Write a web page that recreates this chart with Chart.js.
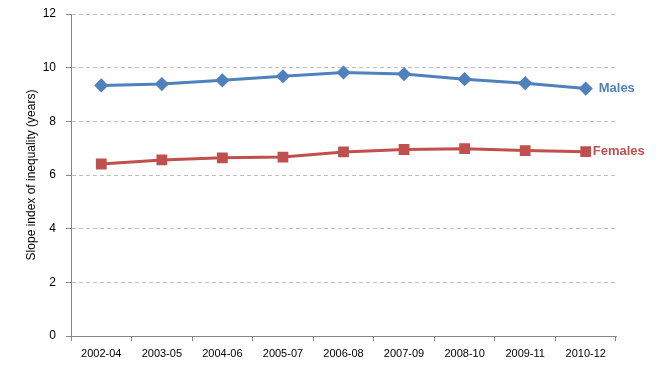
<!DOCTYPE html>
<html>
<head>
<meta charset="utf-8">
<script src="https://cdn.jsdelivr.net/npm/chart.js@4"></script>
<style>
  html, body { margin: 0; padding: 0; background: #ffffff; }
  #wrap { width: 664px; height: 370px; position: relative; }
</style>
</head>
<body>
<div id="wrap"><canvas id="chart"></canvas></div>
<script>
// Data
const periods = ['2002-04', '2003-05', '2004-06', '2005-07', '2006-08', '2007-09', '2008-10', '2009-11', '2010-12'];
const males = [9.34, 9.39, 9.53, 9.68, 9.82, 9.76, 9.57, 9.42, 9.22];
const females = [6.41, 6.56, 6.64, 6.67, 6.86, 6.95, 6.98, 6.91, 6.87];
const yTicks = [0, 2, 4, 6, 8, 10, 12];

const BLUE = '#4F81BD';
const RED = '#C0504D';
const AXIS = '#868686';
const FONT = "'Liberation Sans', Arial, sans-serif";

// Series name written next to the last point
const endLabels = {
    id: 'endLabels',
    afterDatasetsDraw(chart) {
        const ctx = chart.ctx;
        ctx.save();
        ctx.font = "bold 13px " + FONT;
        ctx.textBaseline = 'middle';
        chart.data.datasets.forEach((ds, i) => {
            const meta = chart.getDatasetMeta(i);
            const pt = meta.data[meta.data.length - 1];
            ctx.fillStyle = ds.borderColor;
            ctx.fillText(ds.label, pt.x + ds.labelGap, pt.y);
        });
        ctx.restore();
    }
};

new Chart(document.getElementById('chart'), {
    type: 'line',
    data: {
        labels: periods,
        datasets: [
            {
                label: 'Males',
                data: males,
                borderColor: BLUE,
                backgroundColor: BLUE,
                borderWidth: 3,
                pointStyle: 'rectRot',
                pointRadius: 5,
                labelGap: 13
            },
            {
                label: 'Females',
                data: females,
                borderColor: RED,
                backgroundColor: RED,
                borderWidth: 3,
                pointStyle: 'rect',
                pointRadius: 5.5,
                labelGap: 7
            }
        ]
    },
    options: {
        responsive: true,
        maintainAspectRatio: false,
        animation: false,
        layout: { padding: { top: 14, right: 48, bottom: 0, left: 0 } },
        plugins: {
            legend: { display: false },
            tooltip: { enabled: false }
        },
        scales: {
            x: {
                offset: true,
                grid: {
                    offset: true,
                    drawOnChartArea: false,
                    color: AXIS,
                    tickLength: 5
                },
                border: { color: AXIS, width: 1 },
                ticks: {
                    color: '#000000',
                    font: { family: FONT, size: 11 },
                    maxRotation: 0,
                    padding: 6
                },
                afterFit: s => { s.height = 34; }
            },
            y: {
                min: 0,
                max: 12,
                afterBuildTicks: s => { s.ticks = yTicks.map(v => ({ value: v })); },
                grid: {
                    color: '#BFBFBF',
                    tickColor: AXIS,
                    tickLength: 5,
                    tickBorderDash: []
                },
                border: { color: AXIS, width: 1, dash: [4, 3] },
                ticks: {
                    color: '#000000',
                    font: { family: FONT, size: 12 },
                    padding: 10
                },
                title: {
                    display: true,
                    text: 'Slope index of inequality (years)',
                    color: '#000000',
                    font: { family: FONT, size: 12 },
                    padding: { top: 24, bottom: 0 }
                },
                afterFit: s => { s.width = 71; s.paddingTop = 0; s.paddingBottom = 0; }
            }
        }
    },
    plugins: [endLabels]
});
</script>
</body>
</html>
